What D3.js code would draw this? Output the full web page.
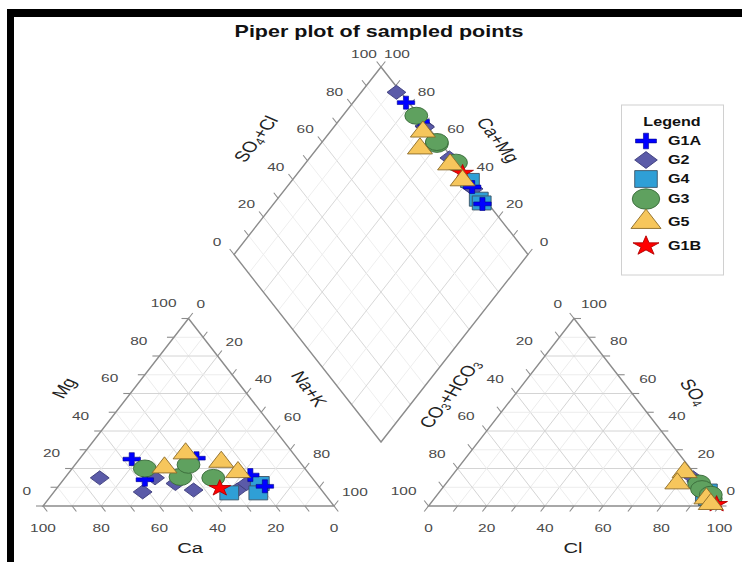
<!DOCTYPE html>
<html>
<head>
<meta charset="utf-8">
<script src="https://cdn.jsdelivr.net/npm/d3@7"></script>
<style>
  body { margin: 0; background: #fff; }
  text { font-family: "Liberation Sans", Arial, sans-serif; }
</style>
</head>
<body>
<svg id="chart" width="742" height="562"></svg>
<script>
// --- data: percent of meq/l, rows are [Ca, Mg, Cl, SO4]
// Na+K = 100 - Ca - Mg, CO3+HCO3 = 100 - Cl - SO4
const groups = ["G1A", "G2", "G4", "G3", "G5", "G1B"];
const drawOrder = ["G2", "G4", "G1A", "G3", "G1B", "G5"];

const g1a = [[57, 25, 91, 8], [34.5, 25.5, 93, 6], [58, 14, 90, 9], [20.5, 16.5, 94, 5], [18.5, 10.5, 92, 6]];
const g2 = [[73, 15, 83.5, 15], [62, 7.5, 87, 12], [54, 15, 89, 10], [48.5, 12, 85.5, 13], [44, 8.5, 88, 11], [29, 8.5, 89.5, 9], [24, 12, 92, 7]];
const g4 = [[32.5, 7, 92, 8], [19.5, 12, 92, 6], [22.5, 7, 94, 4]];
const g3 = [[55, 20, 87, 12], [45, 15.5, 89.5, 9], [39, 22, 95, 4], [34, 15, 94, 6]];
const g5 = [[48, 20.5, 79, 18], [37, 28, 79.5, 12], [27, 23.5, 93.5, 4], [24, 18, 96.5, 1]];
const g1b = [[34.5, 9.5, 98.5, 1]];

const tickValues = [0, 20, 40, 60, 80, 100];

const SX = 1.344; // the figure is stretched horizontally

const styles = {
  G1A: { shape: "plus", fill: "#0000ff", stroke: "#00008b" },
  G2: { shape: "diamond", fill: "#5b5ba8", stroke: "#3c3c7a" },
  G4: { shape: "square", fill: "#2f9fd6", stroke: "#3d5566" },
  G3: { shape: "circle", fill: "#5fa15f", stroke: "#3a6a3a" },
  G5: { shape: "triangle", fill: "#f6c65c", stroke: "#8a6a28" },
  G1B: { shape: "star", fill: "#ff0000", stroke: "#b00000" }
};
const rows = { G1A: g1a, G2: g2, G4: g4, G3: g3, G5: g5, G1B: g1b };

// scales
const yTri = d3.scaleLinear().domain([0, 100]).range([506, 318.5]);
const xCat = d3.scaleLinear().domain([0, 100]).range([43, 334]);
const xAn = d3.scaleLinear().domain([0, 100]).range([428.5, 719.5]);
const xDia = d3.scaleLinear().domain([-100, 100]).range([234, 528]);
const yDia = d3.scaleLinear().domain([0, 200]).range([442, 67]);

// a = bottom-left, b = bottom-right, c = apex
const catPt = (a, b, c) => [xCat(b + c / 2), yTri(c)];  // Ca, Na+K, Mg
const anPt = (a, b, c) => [xAn(b + c / 2), yTri(c)];    // CO3+HCO3, Cl, SO4
const diaPt = (camg, so4cl) => [xDia(so4cl - camg), yDia(camg + so4cl)];

const svg = d3.select("#chart");

// frame
svg.append("rect").attr("x", 7).attr("y", 9).attr("width", 735).attr("height", 8).attr("fill", "#000");
svg.append("rect").attr("x", 7).attr("y", 9).attr("width", 7).attr("height", 553).attr("fill", "#000");

// title
svg.append("text")
  .attr("transform", `translate(379,37) scale(${SX},1)`)
  .attr("text-anchor", "middle")
  .attr("font-size", 16).attr("font-weight", "bold").attr("fill", "#111")
  .text("Piper plot of sampled points");

const gridG = svg.append("g").attr("fill", "none");
const line = (p, q, color, w) => gridG.append("line")
  .attr("x1", p[0]).attr("y1", p[1]).attr("x2", q[0]).attr("y2", q[1])
  .attr("stroke", color).attr("stroke-width", w);

function triGrid(pt) {
  d3.range(10, 100, 10).forEach(v => {
    const c = v % 20 === 0 ? "#d4d4d4" : "#ececec";
    line(pt(v, 100 - v, 0), pt(v, 0, 100 - v), c, 1);
    line(pt(100 - v, v, 0), pt(0, v, 100 - v), c, 1);
    line(pt(100 - v, 0, v), pt(0, 100 - v, v), c, 1);
  });
}
triGrid(catPt);
triGrid(anPt);
d3.range(10, 100, 10).forEach(v => {
  const c = v % 20 === 0 ? "#d8d8d8" : "#eeeeee";
  line(diaPt(v, 0), diaPt(v, 100), c, 1);
  line(diaPt(0, v), diaPt(100, v), c, 1);
});

const outline = d3.line();
const edgeG = svg.append("g").attr("fill", "none").attr("stroke", "#8c8c8c").attr("stroke-width", 1.4);
edgeG.append("path").attr("d", outline([catPt(100, 0, 0), catPt(0, 100, 0), catPt(0, 0, 100)]) + "Z");
edgeG.append("path").attr("d", outline([anPt(100, 0, 0), anPt(0, 100, 0), anPt(0, 0, 100)]) + "Z");
edgeG.append("path").attr("d", outline([diaPt(0, 0), diaPt(100, 0), diaPt(100, 100), diaPt(0, 100)]) + "Z");

// ticks and tick labels
const labelG = svg.append("g").attr("font-size", 11.5).attr("fill", "#4a4a4a");
function axis(edge, inner, anchor, dx, dy) {
  const p = edge(50), q = inner(50);
  const len = Math.hypot(p[0] - q[0], p[1] - q[1]);
  const ux = (p[0] - q[0]) / len * 7, uy = (p[1] - q[1]) / len * 7;
  d3.range(0, 101, 10).forEach(v => {
    const e = edge(v);
    edgeG.append("line").attr("x1", e[0]).attr("y1", e[1])
      .attr("x2", e[0] + ux).attr("y2", e[1] + uy).attr("stroke-width", 1.1);
  });
  tickValues.forEach(v => {
    const e = edge(v);
    labelG.append("text")
      .attr("transform", `translate(${e[0] + dx},${e[1] + dy}) scale(${SX},1)`)
      .attr("text-anchor", anchor).attr("dominant-baseline", "central")
      .text(v);
  });
}
axis(v => catPt(v, 100 - v, 0), v => catPt(v, 0, 100 - v), "middle", 0, 22);
axis(v => catPt(100 - v, 0, v), v => catPt(0, 100 - v, v), "end", -12, -15);
axis(v => catPt(0, v, 100 - v), v => catPt(100 - v, v, 0), "start", 8, -14);
axis(v => anPt(100 - v, v, 0), v => anPt(0, v, 100 - v), "middle", 0, 22);
axis(v => anPt(v, 0, 100 - v), v => anPt(v, 100 - v, 0), "end", -12, -14.5);
axis(v => anPt(0, 100 - v, v), v => anPt(100 - v, 0, v), "start", 7, -14.5);
axis(v => diaPt(100, v), v => diaPt(0, v), "middle", -17, -12.7);
axis(v => diaPt(v, 100), v => diaPt(v, 0), "middle", 16, -12.7);

// axis titles: parts are [text, isSubscript]
const titleG = svg.append("g").attr("font-size", 15).attr("fill", "#222");
function axisTitle(x, y, rot, parts) {
  const t = titleG.append("text")
    .attr("transform", `translate(${x},${y}) scale(${SX},1) rotate(${rot})`)
    .attr("text-anchor", "middle").attr("dominant-baseline", "central");
  let sub = false;
  parts.forEach(([s, isSub]) => {
    const ts = t.append("tspan").text(s);
    if (isSub) ts.attr("font-size", 10).attr("dy", sub ? 0 : 4);
    else if (sub) ts.attr("dy", -4);
    sub = isSub;
  });
}
axisTitle(190, 548, 0, [["Ca", false]]);
axisTitle(573, 548, 0, [["Cl", false]]);
axisTitle(64, 388, -60, [["Mg", false]]);
axisTitle(309, 389, 60, [["Na+K", false]]);
axisTitle(256, 139, -60, [["SO", false], ["4", true], ["+Cl", false]]);
axisTitle(498, 140, 60, [["Ca+Mg", false]]);
axisTitle(450, 394, -60, [["CO", false], ["3", true], ["+HCO", false], ["3", true]]);
axisTitle(694, 392, 60, [["SO", false], ["4", true]]);

// markers
function plusPath(w, t) {
  const a = w / 2, b = t / 2;
  return `M${-b},${-a}H${b}V${-b}H${a}V${b}H${b}V${a}H${-b}V${b}H${-a}V${-b}H${-b}Z`;
}
function markerPath(shape, big) {
  const k = big ? 1.2 : 1;
  switch (shape) {
    case "plus": return plusPath(13 * k, 3.8);
    case "diamond": return d3.symbol(d3.symbolSquare, 98 * k * k)();
    case "square": return d3.symbol(d3.symbolSquare, 196 * k * k)();
    case "circle": return d3.symbol(d3.symbolCircle, 227 * k * k)();
    case "triangle": return d3.symbol(d3.symbolTriangle, 150 * k * k)();
    case "star": return d3.symbol(d3.symbolStar, 81 * k * k)();
  }
}
function marker(g, key, p, big) {
  const st = styles[key];
  g.append("path")
    .attr("d", markerPath(st.shape, big))
    .attr("transform", `translate(${p[0]},${p[1]}) scale(${SX},1)` + (st.shape === "diamond" ? " rotate(45)" : ""))
    .attr("fill", st.fill).attr("stroke", st.stroke)
    .attr("stroke-width", st.shape === "plus" ? 0.6 : 0.9)
    .attr("vector-effect", "non-scaling-stroke");
}

const markG = svg.append("g");
drawOrder.forEach(key => {
  rows[key].forEach(([ca, mg, cl, so4]) => {
    marker(markG, key, catPt(ca, 100 - ca - mg, mg));
    marker(markG, key, anPt(100 - cl - so4, cl, so4));
    marker(markG, key, diaPt(ca + mg, cl + so4));
  });
});

// legend
const legendRowY = { G1A: 141, G2: 160, G4: 179, G3: 199, G5: 222, G1B: 246 };
const leg = svg.append("g");
leg.append("rect").attr("x", 621.5).attr("y", 105).attr("width", 102).attr("height", 170)
  .attr("fill", "#fff").attr("stroke", "#d0d0d0").attr("stroke-width", 1);
leg.append("text")
  .attr("transform", `translate(672,122) scale(${SX},1)`)
  .attr("text-anchor", "middle").attr("dominant-baseline", "central")
  .attr("font-size", 12).attr("font-weight", "bold").attr("fill", "#111")
  .text("Legend");
groups.forEach(key => {
  const y = legendRowY[key];
  marker(leg, key, [646, y], true);
  leg.append("text")
    .attr("transform", `translate(668,${y}) scale(${SX},1)`)
    .attr("dominant-baseline", "central")
    .attr("font-size", 12).attr("font-weight", "bold").attr("fill", "#111")
    .text(key);
});
</script>
</body>
</html>
